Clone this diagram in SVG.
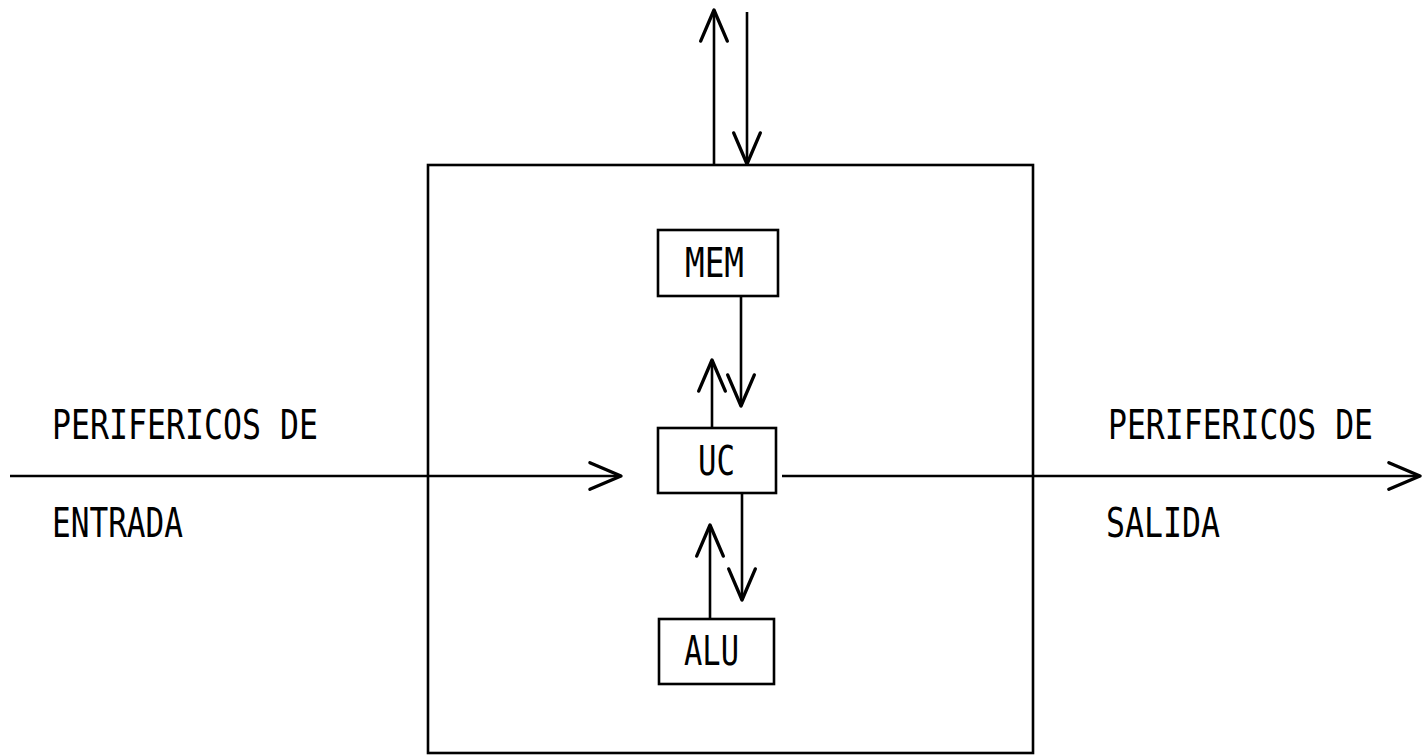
<svg xmlns="http://www.w3.org/2000/svg" width="1422" height="756" viewBox="0 0 1422 756">
<style>
.ln{stroke:#000;stroke-width:2.6;fill:none}
.bx{stroke:#000;stroke-width:2.6;fill:#fff}
.t{font-family:"DejaVu Sans Mono","Liberation Mono",monospace;font-size:32px;fill:#000}
</style>
<defs>
<marker id="ah" markerUnits="userSpaceOnUse" orient="auto" markerWidth="40" markerHeight="40" refX="0" refY="0" viewBox="-32 -16 36 32" overflow="visible">
<path d="M-28,-12 L0,0 L-28,12" fill="none" stroke="#000" stroke-width="3" stroke-linecap="round" stroke-linejoin="round"/>
</marker>
</defs>
<rect width="1422" height="756" fill="#fff"/>
<g id="cpu">
<rect class="ln" x="428" y="165" width="605" height="588"/>
</g>
<g id="connectors">
<line class="ln" x1="714" y1="165" x2="714" y2="10" marker-end="url(#ah)"/>
<line class="ln" x1="747" y1="12" x2="747" y2="164" marker-end="url(#ah)"/>
<line class="ln" x1="712" y1="428" x2="712" y2="360" marker-end="url(#ah)"/>
<line class="ln" x1="741" y1="296" x2="741" y2="406" marker-end="url(#ah)"/>
<line class="ln" x1="742" y1="493" x2="742" y2="600" marker-end="url(#ah)"/>
<line class="ln" x1="710" y1="619" x2="710" y2="525" marker-end="url(#ah)"/>
<line class="ln" x1="10" y1="476" x2="621" y2="476" marker-end="url(#ah)"/>
<line class="ln" x1="782" y1="476" x2="1420" y2="476" marker-end="url(#ah)"/>
</g>
<g id="mem">
<rect class="bx" x="658" y="230" width="120" height="66"/>
<text class="t" transform="translate(685,277) scale(1,1.25)" textLength="59" lengthAdjust="spacingAndGlyphs">MEM</text>
</g>
<g id="uc">
<rect class="bx" x="658" y="428" width="118" height="65"/>
<text class="t" transform="translate(698,475) scale(1,1.25)" textLength="37" lengthAdjust="spacingAndGlyphs">UC</text>
</g>
<g id="alu">
<rect class="bx" x="659" y="619" width="115" height="65"/>
<text class="t" transform="translate(684,665) scale(1,1.25)" textLength="55" lengthAdjust="spacingAndGlyphs">ALU</text>
</g>
<g id="entrada">
<text class="t" transform="translate(52,439) scale(1,1.25)" textLength="266" lengthAdjust="spacingAndGlyphs">PERIFERICOS DE</text>
<text class="t" transform="translate(52,537) scale(1,1.25)" textLength="131" lengthAdjust="spacingAndGlyphs">ENTRADA</text>
</g>
<g id="salida">
<text class="t" transform="translate(1108,439) scale(1,1.25)" textLength="265" lengthAdjust="spacingAndGlyphs">PERIFERICOS DE</text>
<text class="t" transform="translate(1106,537) scale(1,1.25)" textLength="114" lengthAdjust="spacingAndGlyphs">SALIDA</text>
</g>
</svg>
